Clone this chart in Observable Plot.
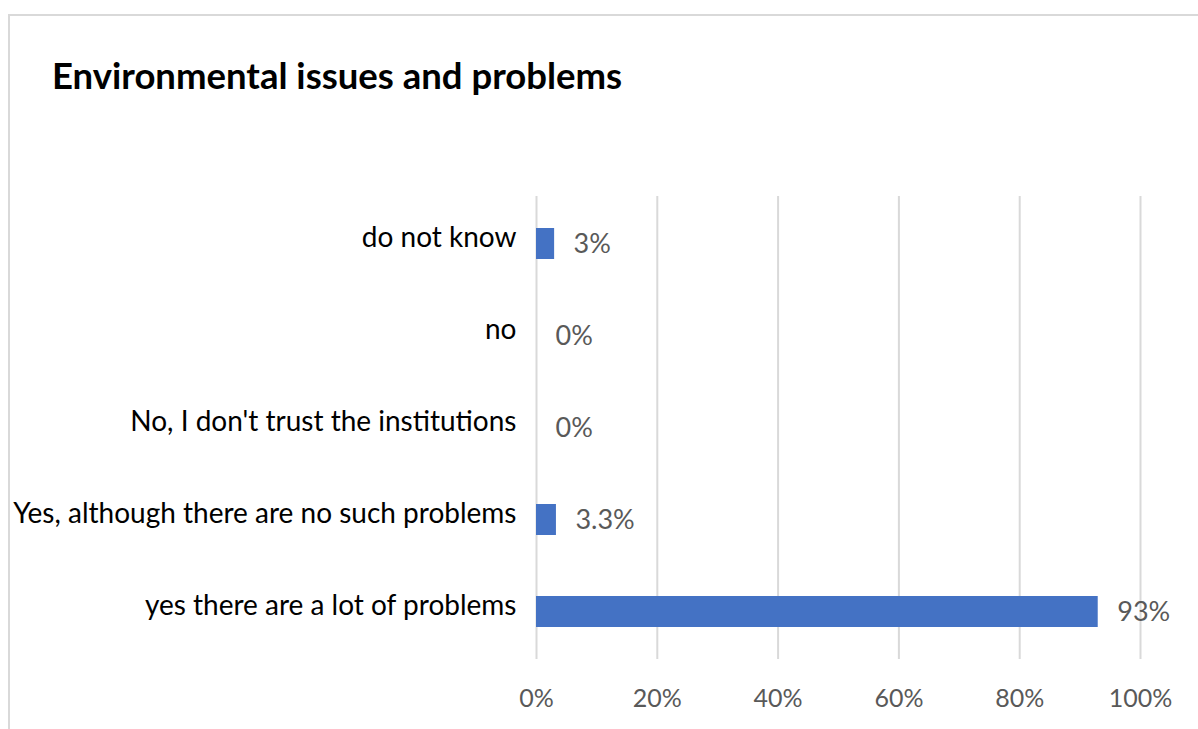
<!DOCTYPE html>
<html>
<head>
<meta charset="utf-8">
<script src="https://cdn.jsdelivr.net/npm/d3@7"></script>
<script src="https://cdn.jsdelivr.net/npm/@observablehq/plot@0.6"></script>
<style>
  html, body { margin: 0; padding: 0; background: #fff; width: 1198px; height: 729px; overflow: hidden; }
  #frame { position: absolute; left: 8px; top: 14px; width: 1300px; height: 800px; border: 2px solid #d9d9d9; box-sizing: border-box; }
  #title { position: absolute; left: 52px; top: 53px; font-family: Lato, sans-serif; font-weight: bold; font-size: 36.5px; color: #000; white-space: nowrap; }
  #chart { position: absolute; left: 0; top: 180px; }
</style>
</head>
<body>
<div id="frame"></div>
<div id="title">Environmental issues and problems</div>
<div id="chart"></div>
<script>
const categories = [
  "do not know",
  "no",
  "No, I don't trust the institutions",
  "Yes, although there are no such problems",
  "yes there are a lot of problems"
];
const values = [0.03, 0, 0, 0.033, 0.93];
const valueLabels = ["3%", "0%", "0%", "3.3%", "93%"];
const xTicks = [0, 0.2, 0.4, 0.6, 0.8, 1];
const xTickLabels = ["0%", "20%", "40%", "60%", "80%", "100%"];

const data = categories.map((c, i) => ({category: c, value: values[i], label: valueLabels[i]}));

const chart = Plot.plot({
  width: 1198,
  height: 549,
  marginLeft: 536,
  marginRight: 58,
  marginTop: 16,
  marginBottom: 70,
  style: {fontFamily: "Lato, sans-serif", background: "transparent"},
  x: {domain: [0, 1]},
  y: {domain: categories, paddingInner: 0.66, paddingOuter: 0.33},
  marks: [
    Plot.gridX(xTicks, {stroke: "#d9d9d9", strokeWidth: 2, strokeOpacity: 1}),
    Plot.barX(data, {x: "value", y: "category", fill: "#4472C4"}),
    Plot.text(data, {x: "value", y: "category", text: "label", textAnchor: "start", dx: 19, fontSize: 27, fill: "#595959"}),
    Plot.axisX(xTicks, {tickSize: 0, tickPadding: 30, fontSize: 25, fill: "#595959", tickFormat: (d, i) => xTickLabels[i], label: null}),
    Plot.axisY({tickSize: 0, tickPadding: 20, fontSize: 28, fill: "#000", dy: -6, label: null})
  ]
});
document.getElementById("chart").appendChild(chart);
</script>
</body>
</html>
